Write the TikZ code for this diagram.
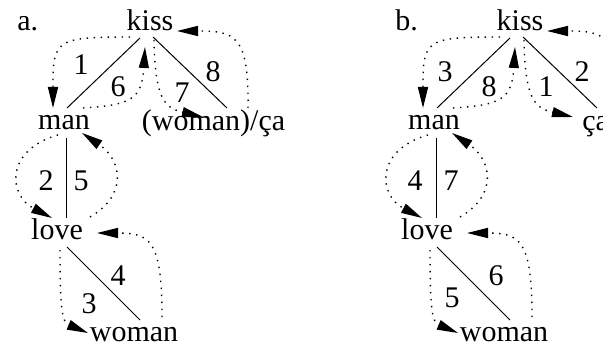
\documentclass[tikz,border=0pt]{standalone}
\usepackage{fontspec}
\setmainfont{Liberation Serif}
\usetikzlibrary{arrows.meta,calc}
\begin{document}
\begin{tikzpicture}[x=0.5pt,y=-0.5pt,
  lbl/.style={inner sep=0pt,anchor=base,font=\fontsize{15}{18}\selectfont},
  edge/.style={line width=0.5pt},
  trav/.style={line width=0.7pt,dash pattern=on 0.7pt off 2.8pt,
    -{Triangle[length=10.5pt,width=5pt]}}]
\useasboundingbox (0,0) rectangle (603,347);
\clip (0,0) rectangle (603,347);
% ---------------- panel a ----------------
\node[lbl,anchor=base west] (pa) at (17,31) {a.};
\node[lbl] (ka) at (150,31) {kiss};
\node[lbl] (ma) at (64,130) {man};
\node[lbl] (wca) at (213.5,131) {(woman)/ça};
\node[lbl] (la) at (57,239) {love};
\node[lbl] (wa) at (134,341) {woman};
\draw[edge] ($(ka.base)+(-10,7)$) -- ($(ma.base)+(3,-22)$);
\draw[edge] ($(ka.base)+(3,6)$) -- ($(wca.base)+(13.5,-23)$);
\draw[edge] ($(ma.base)+(2.5,8)$) -- ($(la.base)+(9.5,-21)$);
\draw[edge] ($(la.base)+(10,8)$) -- ($(wa.base)+(6,-21)$);
\draw[trav] ($(ka.base)+(-20,6)$) .. controls +(-75,0) and +(0,-68) .. ($(ma.base)+(-11,-22)$);
\draw[trav] ($(ma.base)+(19,-22)$) .. controls +(47,-3) and +(-3,53) .. ($(ka.base)+(-5,16)$);
\draw[trav] ($(ka.base)+(4,9)$) .. controls +(1,60) and +(-38,-9) .. ($(wca.base)+(-10.5,-14)$);
\draw[trav] ($(wca.base)+(34.5,-23)$) .. controls +(1,-73) and +(58,0) .. ($(ka.base)+(27,0)$);
\draw[trav] ($(ma.base)+(-6,5)$) .. controls +(-53,15) and +(-44,-23) .. ($(la.base)+(-5,-21)$);
\draw[trav] ($(la.base)+(33,-22)$) .. controls +(38,-22) and +(40,27) .. ($(ma.base)+(18,3)$);
\draw[trav] ($(la.base)+(3,11)$) .. controls +(0,60) and +(-26,-11) .. ($(wa.base)+(-46,-8)$);
\draw[trav] ($(wa.base)+(28,-24)$) .. controls +(0,-77) and +(53,0) .. ($(la.base)+(40,-6)$);
\node[lbl] (a1) at (81,75) {1};
\node[lbl] (a6) at (118,97) {6};
\node[lbl] (a7) at (182,103) {7};
\node[lbl] (a8) at (213,82) {8};
\node[lbl] (a2) at (46,190) {2};
\node[lbl] (a5) at (81,190) {5};
\node[lbl] (a4) at (118,285) {4};
\node[lbl] (a3) at (89,313) {3};
% ---------------- panel b ----------------
\begin{scope}[xshift=185pt]
\node[lbl,anchor=base west] (pb) at (25,31) {b.};
\node[lbl] (kb) at (150,31) {kiss};
\node[lbl] (mb) at (64,130) {man};
\node[lbl,anchor=base west] (cb) at (212,131) {ça};
\node[lbl] (lb) at (57,239) {love};
\node[lbl] (wb) at (134,341) {woman};
\draw[edge] ($(kb.base)+(-10,7)$) -- ($(mb.base)+(3,-22)$);
\draw[edge] ($(kb.base)+(3,6)$) -- ($(cb.base west)+(15,-23)$);
\draw[edge] ($(mb.base)+(2.5,8)$) -- ($(lb.base)+(9.5,-21)$);
\draw[edge] ($(lb.base)+(10,8)$) -- ($(wb.base)+(6,-21)$);
\draw[trav] ($(kb.base)+(-20,6)$) .. controls +(-75,0) and +(0,-68) .. ($(mb.base)+(-11,-22)$);
\draw[trav] ($(mb.base)+(19,-22)$) .. controls +(47,-3) and +(-3,53) .. ($(kb.base)+(-5,16)$);
\draw[trav] ($(kb.base)+(4,9)$) .. controls +(1,60) and +(-38,-9) .. ($(cb.base west)+(-9,-14)$);
\draw[trav] ($(cb.base west)+(36,-23)$) .. controls +(1,-73) and +(58,0) .. ($(kb.base)+(27,0)$);
\draw[trav] ($(mb.base)+(-6,5)$) .. controls +(-53,15) and +(-44,-23) .. ($(lb.base)+(-5,-21)$);
\draw[trav] ($(lb.base)+(33,-22)$) .. controls +(38,-22) and +(40,27) .. ($(mb.base)+(18,3)$);
\draw[trav] ($(lb.base)+(3,11)$) .. controls +(0,60) and +(-26,-11) .. ($(wb.base)+(-46,-8)$);
\draw[trav] ($(wb.base)+(28,-24)$) .. controls +(0,-77) and +(53,0) .. ($(lb.base)+(40,-6)$);
\node[lbl] (b3) at (75,82) {3};
\node[lbl] (b8) at (119,97) {8};
\node[lbl] (b1) at (176,97) {1};
\node[lbl] (b2) at (212,82) {2};
\node[lbl] (b4) at (45,190) {4};
\node[lbl] (b7) at (81,190) {7};
\node[lbl] (b6) at (126,285) {6};
\node[lbl] (b5) at (82,307) {5};
\end{scope}
\end{tikzpicture}
\end{document}
